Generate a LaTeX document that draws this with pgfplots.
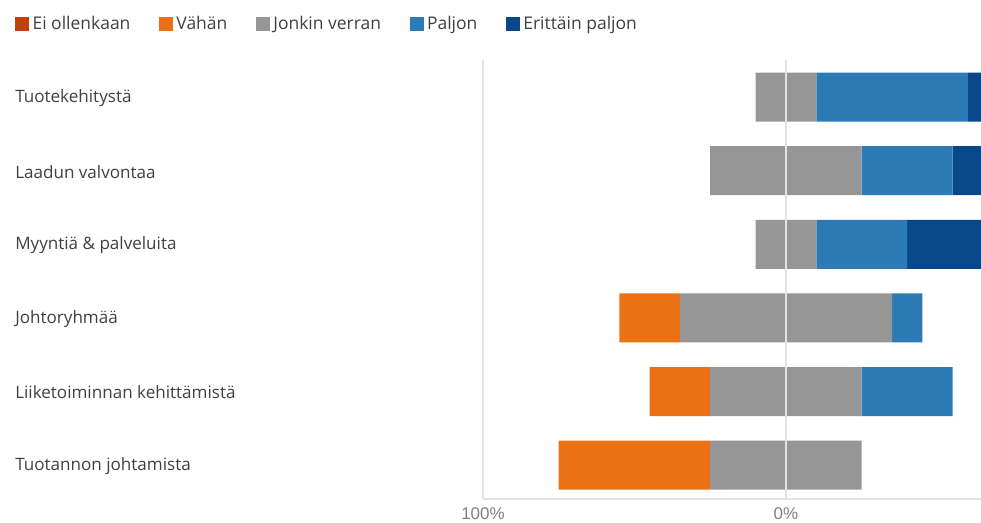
\documentclass[border=0pt]{standalone}
\usepackage{pgfplots}
\usepackage{pgfplotstable}
\pgfplotsset{compat=1.18}
\usepackage{fontspec}
\setmainfont{Open Sans}
\newfontfamily\tickfont{Liberation Sans}
\definecolor{cEi}{HTML}{C0410C}
\definecolor{cVa}{HTML}{EC7014}
\definecolor{cJo}{HTML}{969696}
\definecolor{cPa}{HTML}{2C7BB6}
\definecolor{cEr}{HTML}{08488A}
\definecolor{txt}{HTML}{404040}
\definecolor{tick}{HTML}{7F7F7F}
\definecolor{gridc}{HTML}{E3E3E3}

\pgfplotstableread{
row ei vah jon pal eri
1   0  0   20  50  30
2   0  0   50  30  20
3   0  0   20  30  50
4   0  20  70  10  0
5   0  20  50  30  0
6   0  50  50  0   0
}\data

\begin{document}
\begin{tikzpicture}
\path[use as bounding box] (0pt,0pt) rectangle (735.75pt,391.5pt);
\begin{axis}[
  at={(362.25pt,17.25pt)}, anchor=south west, scale only axis,
  width=373.5pt, height=329.25pt,
  xbar stacked, bar width=36.75pt,
  xmin=-100, xmax=64.36,
  ymin=0.497, ymax=6.46, y dir=reverse,
  ytick={1,...,6},
  yticklabels={Tuotekehitystä, Laadun valvontaa, Myyntiä \& palveluita, Johtoryhmää, Liiketoiminnan kehittämistä, Tuotannon johtamista},
  yticklabel style={anchor=west, inner sep=0pt, xshift=-351pt, yshift=-0.75pt, text=txt, font=\fontsize{12.8}{14}\selectfont},
  xtick={-100,0}, xticklabels={100\%, 0\%},
  xticklabel style={text=tick, font=\tickfont\fontsize{12.75}{14}\selectfont, inner sep=0pt, yshift=-6pt},
  major tick length=0pt,
  axis lines=left,
  axis line style={-, draw=gridc, line width=1.5pt},
  xmajorgrids, grid style={draw=gridc, line width=1.5pt},
  axis on top,
  legend columns=5,
  legend style={at={(axis description cs:-0.9398,1.082)}, anchor=west, draw=none, inner sep=0pt,
    font=\fontsize{13.1}{14}\selectfont, text=txt,
    nodes={inner sep=2.5pt},
    /tikz/every even column/.append style={column sep=19pt}},
  legend image code/.code={\fill[#1] (0pt,-5.25pt) rectangle (10.5pt,5.25pt);},
]
\addlegendimage{fill=cEi, draw=none}\addlegendentry{Ei ollenkaan}
\addlegendimage{fill=cVa, draw=none}\addlegendentry{Vähän}
\addlegendimage{fill=cJo, draw=none}\addlegendentry{Jonkin verran}
\addlegendimage{fill=cPa, draw=none}\addlegendentry{Paljon}
\addlegendimage{fill=cEr, draw=none}\addlegendentry{Erittäin paljon}
\addplot[fill=cJo, draw=none, forget plot] table[y=row, x expr=-\thisrow{jon}/2] \data;
\addplot[fill=cVa, draw=none, forget plot] table[y=row, x expr=-\thisrow{vah}] \data;
\addplot[fill=cEi, draw=none, forget plot] table[y=row, x expr=-\thisrow{ei}] \data;
\addplot[fill=cJo, draw=none, forget plot] table[y=row, x expr=\thisrow{jon}/2] \data;
\addplot[fill=cPa, draw=none, forget plot] table[y=row, x=pal] \data;
\addplot[fill=cEr, draw=none, forget plot] table[y=row, x=eri] \data;
\end{axis}
\end{tikzpicture}
\end{document}
